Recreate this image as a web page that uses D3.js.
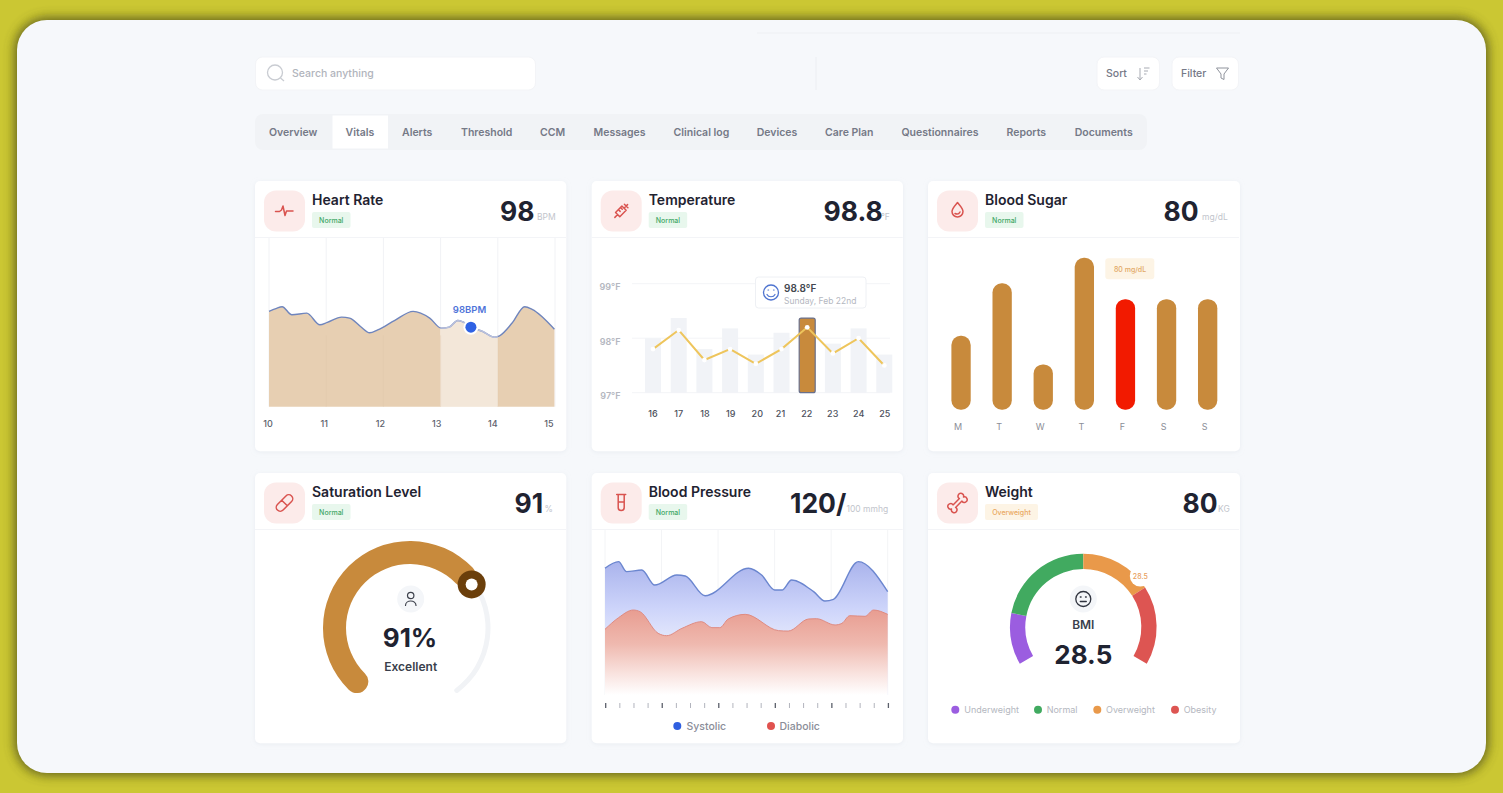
<!DOCTYPE html>
<html>
<head>
<meta charset="utf-8">
<title>Vitals</title>
<script src="https://cdnjs.cloudflare.com/ajax/libs/d3/7.8.5/d3.min.js"></script>
<style>
html, body { margin: 0; padding: 0; background: #cbc733; overflow: hidden; }
svg { display: block; }
text { font-family: Inter, "Noto Sans", sans-serif; }
</style>
</head>
<body>
<div id="container"></div>
<script>
var width = 1503, height = 793;

var ink = "#1f2331", muted = "#c2c5cc", tabInk = "#757987", tan = "#c88a3c";

var tabs = [
    ["Overview", 269], ["Vitals", 345.5], ["Alerts", 402], ["Threshold", 461], ["CCM", 540],
    ["Messages", 593.5], ["Clinical log", 673.5], ["Devices", 756.7], ["Care Plan", 825],
    ["Questionnaires", 901.5], ["Reports", 1006.5], ["Documents", 1074.7]
];

// card boxes + header text, positions
var cards = [
    {x: 255, y: 181, title: "Heart Rate", badge: "Normal", value: "98", unit: "BPM", vx: 500, ux: 537},
    {x: 591.7, y: 181, title: "Temperature", badge: "Normal", value: "98.8", unit: "°F", vx: 823.5, ux: 881},
    {x: 928, y: 181, title: "Blood Sugar", badge: "Normal", value: "80", unit: "mg/dL", vx: 1163.5, ux: 1202},
    {x: 255, y: 473, title: "Saturation Level", badge: "Normal", value: "91", unit: "%", vx: 514.5, ux: 544.5},
    {x: 591.7, y: 473, title: "Blood Pressure", badge: "Normal", value: "120/", unit: "100 mmhg", vx: 790, ux: 846.5},
    {x: 928, y: 473, title: "Weight", badge: "Overweight", value: "80", unit: "KG", vx: 1182.5, ux: 1218}
];

var heartRate = [
    [10, 109.5], [10.12, 111.5], [10.23, 112.9], [10.4, 107], [10.66, 108.2], [10.89, 99.7], [11.02, 101.5],
    [11.27, 105.3], [11.41, 104.6], [11.6, 98.5], [11.76, 93.9], [11.9, 96], [12.2, 103],
    [12.52, 109.5], [12.81, 104.6], [13.01, 97.3], [13.15, 98], [13.3, 102.9], [13.38, 102],
    [13.53, 98], [13.74, 94.8], [13.94, 90.7], [14.03, 91.7], [14.25, 101], [14.47, 112.9], [14.6, 111], [14.99, 96.5]
];

var temperature = [
    {day: 16, bar: 98.0, line: 97.8},
    {day: 17, bar: 98.37, line: 98.15},
    {day: 18, bar: 97.8, line: 97.6},
    {day: 19, bar: 98.18, line: 97.8},
    {day: 20, bar: 97.7, line: 97.53},
    {day: 21, bar: 98.1, line: 97.8},
    {day: 22, bar: 98.37, line: 98.2, active: true},
    {day: 23, bar: 97.9, line: 97.72},
    {day: 24, bar: 98.18, line: 98.0},
    {day: 25, bar: 97.7, line: 97.5}
];

var sugar = [
    {id: 0, d: "M", v: 53.5}, {id: 1, d: "T", v: 91.5}, {id: 2, d: "W", v: 32.8}, {id: 3, d: "T", v: 110},
    {id: 4, d: "F", v: 80, active: true}, {id: 5, d: "S", v: 80}, {id: 6, d: "S", v: 80}
];

var systolic = [
    [0, 122.9], [0.24, 129.3], [0.38, 119.6], [0.65, 121.2], [0.88, 106.6], [1.27, 116.3], [1.42, 115.4], [1.77, 96.3],
    [2.54, 122.9], [2.77, 116.3], [3.0, 101.8], [3.13, 101.8], [3.3, 111.5], [3.69, 100.2], [3.89, 91.1], [4.04, 92.8],
    [4.48, 129.3], [5, 100.2]
];
var diastolic = [
    [0, 63.7], [0.24, 75], [0.5, 82.4], [0.62, 80.8], [0.94, 59.8], [1.09, 57.5], [1.36, 64.6], [1.71, 71.1],
    [1.89, 65.3], [2.03, 65.3], [2.18, 73.7], [2.48, 78.2], [3.07, 62.4], [3.24, 62], [3.6, 73.7], [3.74, 74],
    [4.07, 67.9], [4.19, 69.5], [4.33, 76.9], [4.6, 76.3], [4.75, 82.4], [5, 78.2]
];

var bmiBands = [
    {name: "Underweight", share: 41, color: "#9b5de0", lx: 955.3, tx: 964.3},
    {name: "Normal", share: 79, color: "#41aa60", lx: 1038, tx: 1046.7},
    {name: "Overweight", share: 57.5, color: "#e9994a", lx: 1097.3, tx: 1106},
    {name: "Obesity", share: 62.5, color: "#dd5552", lx: 1175, tx: 1183.7}
];

var svg = d3.select("#container").append("svg").attr("width", width).attr("height", height);
var defs = svg.append("defs");

var shade = defs.append("filter").attr("id", "panelShade")
    .attr("x", "-3%").attr("y", "-4%").attr("width", "106%").attr("height", "108%");
shade.append("feGaussianBlur").attr("stdDeviation", 6);

var cardShadow = defs.append("filter").attr("id", "cardShadow")
    .attr("x", "-5%").attr("y", "-5%").attr("width", "110%").attr("height", "110%");
cardShadow.append("feDropShadow").attr("dx", 0).attr("dy", 1).attr("stdDeviation", 2)
    .attr("flood-color", "#dfe3ea").attr("flood-opacity", 0.55);

function gradient(id, stops, y1, y2) {
    var g = defs.append("linearGradient").attr("id", id)
        .attr("gradientUnits", "userSpaceOnUse")
        .attr("x1", 0).attr("x2", 0).attr("y1", y1).attr("y2", y2);
    stops.forEach(function(s) {
        g.append("stop").attr("offset", s[0]).attr("stop-color", s[1]);
    });
}
gradient("sysFill", [[0, "#a9b3ec"], [0.6, "#cdd4fa"], [1, "#e4e8fc"]], 561, 640);
gradient("diaFill", [[0, "#e89d91"], [0.4, "#efb9af"], [0.75, "#f9e3df"], [1, "#ffffff"]], 610, 695);

// frame and panel
svg.append("rect").attr("width", width).attr("height", height).attr("fill", "#cbc733");
svg.append("rect").attr("x", 15).attr("y", 18).attr("width", 1473).attr("height", 757).attr("rx", 32)
    .attr("fill", "#4a4a18").attr("opacity", 0.85).attr("filter", "url(#panelShade)");
svg.append("rect").attr("x", 17).attr("y", 20).attr("width", 1469).attr("height", 753).attr("rx", 30)
    .attr("fill", "#f6f8fb");

// top bar
var top_ = svg.append("g");
top_.append("line").attr("x1", 757).attr("x2", 1240).attr("y1", 33).attr("y2", 33).attr("stroke", "#eef0f3");
top_.append("line").attr("x1", 816).attr("x2", 816).attr("y1", 57).attr("y2", 90).attr("stroke", "#eceef2");
top_.append("rect").attr("x", 255.5).attr("y", 57).attr("width", 280).attr("height", 33).attr("rx", 7).attr("fill", "#fff").attr("stroke", "#f3f4f7");
top_.append("circle").attr("cx", 275).attr("cy", 72.5).attr("r", 7.5).attr("fill", "none").attr("stroke", "#c9ccd2").attr("stroke-width", 1.3);
top_.append("line").attr("x1", 280.5).attr("y1", 78).attr("x2", 284).attr("y2", 81).attr("stroke", "#c9ccd2").attr("stroke-width", 1.3);
top_.append("text").attr("x", 292).attr("y", 77).attr("font-size", 10.5).attr("font-weight", 500).attr("fill", "#b1b4bc").text("Search anything");

top_.append("rect").attr("x", 1097).attr("y", 57).attr("width", 62.5).attr("height", 33).attr("rx", 7).attr("fill", "#fff").attr("stroke", "#f3f4f7");
top_.append("text").attr("x", 1106).attr("y", 77).attr("font-size", 10.5).attr("font-weight", 500).attr("fill", tabInk).text("Sort");
top_.append("path").attr("d", "M1140 68v12m-2.500-3l2.500 3 2.500-3M1144 68h5.500M1144 71h4M1144 74h2.500")
    .attr("fill", "none").attr("stroke", "#a8abb3").attr("stroke-width", 1);
top_.append("rect").attr("x", 1172).attr("y", 57).attr("width", 66.5).attr("height", 33).attr("rx", 7).attr("fill", "#fff").attr("stroke", "#f3f4f7");
top_.append("text").attr("x", 1181).attr("y", 77).attr("font-size", 10.5).attr("font-weight", 500).attr("fill", tabInk).text("Filter");
top_.append("path").attr("d", "M1216.500 68h12l-4.500 6v5.500l-3-1.500v-4z")
    .attr("fill", "none").attr("stroke", "#8f939c").attr("stroke-width", 1);

// tabs
top_.append("rect").attr("x", 255).attr("y", 114).attr("width", 892).attr("height", 36).attr("rx", 8).attr("fill", "#f1f3f6");
top_.append("rect").attr("x", 332.5).attr("y", 115.5).attr("width", 55.5).attr("height", 33).attr("fill", "#fff");
top_.selectAll("text.tab").data(tabs).enter().append("text")
    .attr("class", "tab")
    .attr("x", function(d) { return d[1]; })
    .attr("y", 135.8)
    .attr("font-size", 10.5).attr("font-weight", 600)
    .attr("fill", tabInk)
    .text(function(d) { return d[0]; });

// cards
var card = svg.selectAll("g.card").data(cards).enter().append("g").attr("class", "card")
    .attr("transform", function(d) { return "translate(" + d.x + "," + d.y + ")"; });
card.append("rect").attr("width", function(d, i) { return i % 3 === 2 ? 312 : 311.3; }).attr("height", 270.2).attr("rx", 5)
    .attr("fill", "#fff").attr("filter", "url(#cardShadow)");
card.append("line").attr("x1", 0).attr("x2", 311).attr("y1", 56.5).attr("y2", 56.5).attr("stroke", "#f3f4f7");
card.append("rect").attr("x", 9).attr("y", 9.500).attr("width", 41).attr("height", 41).attr("rx", 12).attr("fill", "#fcebea");
card.append("text").attr("x", 57).attr("y", 24).attr("font-size", 14).attr("font-weight", 600).attr("fill", ink)
    .text(function(d) { return d.title; });
card.append("rect").attr("x", 57).attr("y", 31).attr("height", 16).attr("rx", 2)
    .attr("width", function(d) { return d.badge === "Normal" ? 38.5 : 53; })
    .attr("fill", function(d) { return d.badge === "Normal" ? "#e8f7ed" : "#fdf4e5"; });
card.append("text").attr("x", function(d) { return d.badge === "Normal" ? 76.25 : 83.5; })
    .attr("y", 41.5).attr("text-anchor", "middle").attr("font-size", 7).attr("font-weight", 500)
    .attr("fill", function(d) { return d.badge === "Normal" ? "#43a867" : "#e9a85f"; })
    .text(function(d) { return d.badge; });
svg.selectAll("text.val").data(cards).enter().append("text").attr("class", "val")
    .attr("x", function(d) { return d.vx; }).attr("y", function(d) { return d.y + 39.8; })
    .attr("font-size", 26.5).attr("font-weight", 700).attr("fill", ink)
    .text(function(d) { return d.value; });
svg.selectAll("text.unit").data(cards).enter().append("text").attr("class", "unit")
    .attr("x", function(d) { return d.ux; }).attr("y", function(d) { return d.y + 38.5; })
    .attr("font-size", 8.5).attr("fill", muted)
    .text(function(d) { return d.unit; });

// header icons
var iconRed = "#d9534f";
function icon(i, path, rot) {
    var c = cards[i];
    svg.append("path").attr("d", path)
        .attr("transform", "translate(" + (c.x + 29.5) + "," + (c.y + 30) + ")rotate(" + (rot || 0) + ")")
        .attr("fill", "none").attr("stroke", iconRed).attr("stroke-width", 1.5)
        .attr("stroke-linecap", "round").attr("stroke-linejoin", "round");
}
icon(0, "M-9 0.500h4l2-1.500 1.500-4 2 9.500 1.500-4.500h6.500");
icon(1, "M-9 0h4M-5-3h9v6h-9zM4 0h3M7-2.500v5M7 0h2M-1-3v2.500M2-3v2.500", -45);
icon(2, "M0-8.500c3 3.500 5.500 6 5.500 9a5.500 5.500 0 0 1-11 0c0-3 2.500-5.500 5.500-9zM-2.500 2.500c2 1 4 .5 5-1.500");
icon(3, "M-6-4h12a4 4 0 0 1 0 8h-12a4 4 0 0 1 0-8zM0-4v8", -45);
icon(4, "M-4.500-8.500h9M-3-8.500v13a3 3 0 0 0 6 0v-13M-3-1h6");
icon(5, "M-4.500-1.800H4.500A2.800 2.800 0 1 1 8.500 0A2.800 2.800 0 1 1 4.500 1.800H-4.500A2.800 2.800 0 1 1-8.500 0A2.800 2.800 0 1 1-4.500-1.800Z", -45);

/* ---- heart rate ---- */
var hrX = d3.scaleLinear().domain([10, 15]).range([269, 555]);
var hrY = d3.scaleLinear().domain([40, 163]).range([406.7, 238]);
var hr = svg.append("g");
hr.selectAll("line.grid").data(d3.range(10, 16)).enter().append("line").attr("class", "grid")
    .attr("x1", hrX).attr("x2", hrX).attr("y1", 238).attr("y2", 406.7).attr("stroke", "#f1f2f5");

var hrArea = d3.area().curve(d3.curveMonotoneX)
    .x(function(d) { return hrX(d[0]); }).y0(hrY(40)).y1(function(d) { return hrY(d[1]); });
var hrLine = d3.line().curve(d3.curveMonotoneX)
    .x(function(d) { return hrX(d[0]); }).y(function(d) { return hrY(d[1]); });

defs.append("clipPath").attr("id", "hrBand").append("rect")
    .attr("x", hrX(13)).attr("width", hrX(14) - hrX(13)).attr("y", 230).attr("height", 190);
hr.append("path").datum(heartRate).attr("d", hrArea).attr("fill", "#e7cfb2");
hr.append("path").datum(heartRate).attr("d", hrArea).attr("fill", "#fff").attr("clip-path", "url(#hrBand)");
hr.append("path").datum(heartRate).attr("d", hrArea).attr("fill", "#f3e7d9").attr("clip-path", "url(#hrBand)");
hr.selectAll("line.over").data(d3.range(11, 15)).enter().append("line").attr("class", "over")
    .attr("x1", hrX).attr("x2", hrX).attr("y1", hrY(92)).attr("y2", 406.7).attr("stroke", "#dfc6a8").attr("stroke-opacity", 0.35);
hr.append("path").datum(heartRate).attr("d", hrLine).attr("fill", "none").attr("stroke", "#6f85bd").attr("stroke-width", 1.4);
hr.append("path").datum(heartRate).attr("d", hrLine).attr("fill", "none").attr("stroke", "#b9c0dc").attr("stroke-width", 1.5).attr("clip-path", "url(#hrBand)");
hr.append("circle").attr("cx", hrX(13.53)).attr("cy", hrY(98)).attr("r", 7.5).attr("fill", "#fff");
hr.append("circle").attr("cx", hrX(13.53)).attr("cy", hrY(98)).attr("r", 5.5).attr("fill", "#2f62e4");
hr.append("text").attr("x", 469.5).attr("y", 312.5).attr("text-anchor", "middle").attr("font-size", 9.5).attr("font-weight", 600)
    .attr("fill", "#4f74d9").text("98BPM");
// tick labels sit a touch left of the grid
var hrLabelX = d3.scaleLinear().domain([10, 15]).range([268, 549]);
hr.append("g").attr("transform", "translate(-0.5,426.5)")
    .call(d3.axisBottom(hrLabelX).tickValues(d3.range(10, 16)).tickFormat(d3.format("d")).tickSize(0).tickPadding(0))
    .call(function(g) { g.select(".domain").remove(); })
    .selectAll("text").attr("font-size", 9).attr("font-weight", 500).attr("fill", "#5d616d")
    .attr("font-family", "Inter").attr("dy", "0").attr("y", 0);

/* ---- temperature ---- */
var tX = d3.scalePoint().domain(temperature.map(function(d) { return d.day; })).range([653, 884.3]);
var tY = d3.scaleLinear().domain([97, 99]).range([392.7, 283.7]);
var tp = svg.append("g");
tp.selectAll("line.grid").data([97, 98, 99]).enter().append("line").attr("class", "grid")
    .attr("x1", 632).attr("x2", 890).attr("y1", tY).attr("y2", tY).attr("stroke", "#f3f4f7");
tp.append("g").attr("transform", "translate(620.5,3)")
    .call(d3.axisLeft(tY).tickValues([97, 98, 99]).tickFormat(function(d) { return d + "°F"; }).tickSize(0).tickPadding(0))
    .call(function(g) { g.select(".domain").remove(); })
    .selectAll("text").attr("font-size", 9).attr("font-weight", 600).attr("fill", "#b4b7bf")
    .attr("font-family", "Inter").attr("x", 0).attr("dy", "0.32em");
tp.selectAll("rect.bar").data(temperature).enter().append("rect").attr("class", "bar")
    .attr("x", function(d) { return tX(d.day) - 8; }).attr("width", 16)
    .attr("y", function(d) { return tY(d.bar); })
    .attr("height", function(d) { return tY(97) - tY(d.bar); })
    .attr("rx", function(d) { return d.active ? 2 : 0; })
    .attr("fill", function(d) { return d.active ? tan : "#f1f3f7"; })
    .attr("stroke", function(d) { return d.active ? "#69708c" : "none"; })
    .attr("stroke-width", 1.2);
tp.append("path").datum(temperature)
    .attr("d", d3.line().x(function(d) { return tX(d.day); }).y(function(d) { return tY(d.line); }))
    .attr("fill", "none").attr("stroke", "#eec55c").attr("stroke-width", 2);
tp.selectAll("circle.pt").data(temperature).enter().append("circle").attr("class", "pt")
    .attr("cx", function(d) { return tX(d.day); }).attr("cy", function(d) { return tY(d.line); })
    .attr("r", 2.4).attr("fill", "#fff");
var tLabels = {16: 653, 17: 678.7, 18: 705, 19: 730.7, 20: 757.3, 21: 780.5, 22: 806.7, 23: 832.7, 24: 858.7, 25: 884.7};
tp.selectAll("text.day").data(temperature).enter().append("text").attr("class", "day")
    .attr("x", function(d) { return tLabels[d.day]; }).attr("y", 417)
    .attr("text-anchor", "middle").attr("font-size", 9).attr("font-weight", 500).attr("fill", "#4d515c")
    .text(function(d) { return d.day; });
tp.append("rect").attr("x", 755.5).attr("y", 277).attr("width", 110.5).attr("height", 31).attr("rx", 3)
    .attr("fill", "#fff").attr("stroke", "#eef0f4").attr("stroke-width", 1);
tp.append("circle").attr("cx", 771).attr("cy", 292.5).attr("r", 7.5).attr("fill", "none").attr("stroke", "#4f74d0").attr("stroke-width", 1.3);
tp.append("path").attr("d", "M767 294.500c1.500 3 6.500 3 8 0M768 290h.6M773.500 290h.6")
    .attr("fill", "none").attr("stroke", "#4f74d0").attr("stroke-width", 1.2).attr("stroke-linecap", "round");
tp.append("text").attr("x", 784).attr("y", 292).attr("font-size", 10).attr("font-weight", 600).attr("fill", "#43474f").text("98.8°F");
tp.append("text").attr("x", 784).attr("y", 303.5).attr("font-size", 8.5).attr("fill", "#b4b7bf").text("Sunday, Feb 22nd");

/* ---- blood sugar ---- */
var sX = d3.scaleBand().domain(sugar.map(function(d) { return d.id; })).range([940.5, 1228.2]).paddingInner(0.53).paddingOuter(0.265);
var sY = d3.scaleLinear().domain([0, 110]).range([409.7, 257.7]);
var bs = svg.append("g");
bs.selectAll("rect.bar").data(sugar).enter().append("rect").attr("class", "bar")
    .attr("x", function(d) { return sX(d.id); }).attr("width", sX.bandwidth())
    .attr("y", function(d) { return sY(d.v); }).attr("height", function(d) { return sY(0) - sY(d.v); })
    .attr("rx", sX.bandwidth() / 2 - 0.5)
    .attr("fill", function(d) { return d.active ? "#f21a00" : tan; });
bs.selectAll("text.day").data(sugar).enter().append("text").attr("class", "day")
    .attr("x", function(d) { return sX(d.id) + sX.bandwidth() / 2 - 3; }).attr("y", 429.500)
    .attr("text-anchor", "middle").attr("font-size", 9).attr("fill", "#8b8e97")
    .text(function(d) { return d.d; });
bs.append("rect").attr("x", 1105.3).attr("y", 258.3).attr("width", 49).attr("height", 21).attr("rx", 3).attr("fill", "#fdf4e5");
bs.append("text").attr("x", 1130).attr("y", 271.5).attr("text-anchor", "middle").attr("font-size", 7).attr("font-weight", 500).attr("fill", "#e2a866").text("80 mg/dL");

/* ---- saturation gauge ---- */
var satAngle = d3.scaleLinear().domain([0, 100]).range([-144, 144]);
var satFill = 69; // how far the arc is drawn in the picture
function rad(a) { return a * Math.PI / 180; }
var sat = svg.append("g").attr("transform", "translate(410,628)");
sat.append("path").attr("d", d3.arc().innerRadius(75.5).outerRadius(80.5).cornerRadius(2.5)
    .startAngle(rad(50)).endAngle(rad(satAngle(100) + 1))()).attr("fill", "#f1f3f6");
sat.append("path").attr("d", d3.arc().innerRadius(64).outerRadius(87).cornerRadius(11.5)
    .startAngle(rad(satAngle(0))).endAngle(rad(satAngle(satFill)))()).attr("fill", tan);
var knobA = rad(satAngle(satFill));
sat.append("circle").attr("cx", 75.5 * Math.sin(knobA)).attr("cy", -75.5 * Math.cos(knobA)).attr("r", 14).attr("fill", "#6b3f0b");
sat.append("circle").attr("cx", 75.5 * Math.sin(knobA)).attr("cy", -75.5 * Math.cos(knobA)).attr("r", 6).attr("fill", "#fff");
sat.append("circle").attr("cx", 0.7).attr("cy", -29).attr("r", 13.5).attr("fill", "#f4f6f9");
sat.append("circle").attr("cx", 0.7).attr("cy", -32.5).attr("r", 3.2).attr("fill", "none").attr("stroke", "#3d414c").attr("stroke-width", 1.2);
sat.append("path").attr("d", "M-4.500 -22.500c0-6 10.500-6 10.500 0").attr("fill", "none").attr("stroke", "#3d414c").attr("stroke-width", 1.2).attr("stroke-linecap", "round");
sat.append("text").attr("x", 0).attr("y", 18.5).attr("text-anchor", "middle").attr("font-size", 26).attr("font-weight", 700).attr("fill", ink).text("91%");
sat.append("text").attr("x", 0.7).attr("y", 42.5).attr("text-anchor", "middle").attr("font-size", 12).attr("font-weight", 600).attr("fill", "#3a3f4c").text("Excellent");

/* ---- blood pressure ---- */
var bpX = d3.scaleLinear().domain([0, 5]).range([605, 887.7]);
var bpY = d3.scaleLinear().domain([0, 160]).range([695, 530]);
var bp = svg.append("g");
bp.selectAll("line.grid").data(d3.range(0, 6)).enter().append("line").attr("class", "grid")
    .attr("x1", bpX).attr("x2", bpX).attr("y1", 530).attr("y2", 695).attr("stroke", "#f3f4f6");
var bpArea = d3.area().curve(d3.curveMonotoneX).x(function(d) { return bpX(d[0]); })
    .y0(bpY(0)).y1(function(d) { return bpY(d[1]); });
var bpLine = d3.line().curve(d3.curveMonotoneX).x(function(d) { return bpX(d[0]); }).y(function(d) { return bpY(d[1]); });
bp.append("path").datum(systolic).attr("d", bpArea).attr("fill", "url(#sysFill)");
bp.append("path").datum(systolic).attr("d", bpLine).attr("fill", "none").attr("stroke", "#6b86cf").attr("stroke-width", 1.4);
bp.append("path").datum(diastolic).attr("d", bpArea).attr("fill", "url(#diaFill)");
bp.append("path").datum(diastolic).attr("d", bpLine).attr("fill", "none").attr("stroke", "#df8a80").attr("stroke-width", 1);
bp.selectAll("line.tick").data(d3.range(0, 21)).enter().append("line").attr("class", "tick")
    .attr("x1", function(d) { return bpX(d / 4) + 0.7; }).attr("x2", function(d) { return bpX(d / 4) + 0.7; })
    .attr("y1", 703).attr("y2", 708)
    .attr("stroke", function(d) { return d % 4 === 0 ? "#5c606b" : "#a9acb5"; })
    .attr("stroke-width", function(d) { return d % 4 === 0 ? 1.3 : 0.9; });
var bpLegend = [["Systolic", "#2f5fe0", 677.3, 686.5], ["Diabolic", "#e0524f", 771, 779.5]];
bp.selectAll("circle.lg").data(bpLegend).enter().append("circle").attr("class", "lg")
    .attr("cx", function(d) { return d[2]; }).attr("cy", 726).attr("r", 4).attr("fill", function(d) { return d[1]; });
bp.selectAll("text.lg").data(bpLegend).enter().append("text").attr("class", "lg")
    .attr("x", function(d) { return d[3]; }).attr("y", 730).attr("font-size", 10.5).attr("font-weight", 500).attr("fill", "#8a8d98")
    .text(function(d) { return d[0]; });

/* ---- bmi gauge ---- */
var bmi = svg.append("g").attr("transform", "translate(1083.3,627)");
var bmiPie = d3.pie().sort(null).value(function(d) { return d.share; }).startAngle(rad(-120)).endAngle(rad(120));
bmi.selectAll("path.band").data(bmiPie(bmiBands)).enter().append("path").attr("class", "band")
    .attr("d", d3.arc().innerRadius(58).outerRadius(73.3))
    .attr("fill", function(d) { return d.data.color; });
bmi.append("circle").attr("cx", 57).attr("cy", -51).attr("r", 10.5).attr("fill", "#fff");
bmi.append("text").attr("x", 57).attr("y", -48.5).attr("text-anchor", "middle").attr("font-size", 7).attr("font-weight", 500).attr("fill", "#e8a060").text("28.5");
bmi.append("circle").attr("cx", 0).attr("cy", -28).attr("r", 13.5).attr("fill", "#f4f6f9");
bmi.append("circle").attr("cx", 0).attr("cy", -28).attr("r", 7.5).attr("fill", "none").attr("stroke", "#30343f").attr("stroke-width", 1.3);
bmi.append("path").attr("d", "M-3-25.500h6M-3-30h.8M2.200-30h.8").attr("fill", "none").attr("stroke", "#30343f").attr("stroke-width", 1.3).attr("stroke-linecap", "round");
bmi.append("text").attr("x", 0).attr("y", 1.5).attr("text-anchor", "middle").attr("font-size", 12).attr("font-weight", 600).attr("fill", "#3a3f4c").text("BMI");
bmi.append("text").attr("x", 0).attr("y", 36.5).attr("text-anchor", "middle").attr("font-size", 26).attr("font-weight", 700).attr("fill", ink).text("28.5");
svg.selectAll("circle.bmiLg").data(bmiBands).enter().append("circle").attr("class", "bmiLg")
    .attr("cx", function(d) { return d.lx; }).attr("cy", 709.7).attr("r", 4).attr("fill", function(d) { return d.color; });
svg.selectAll("text.bmiLg").data(bmiBands).enter().append("text").attr("class", "bmiLg")
    .attr("x", function(d) { return d.tx; }).attr("y", 713).attr("font-size", 9).attr("fill", "#b4b7c0")
    .text(function(d) { return d.name; });
</script>
</body>
</html>
